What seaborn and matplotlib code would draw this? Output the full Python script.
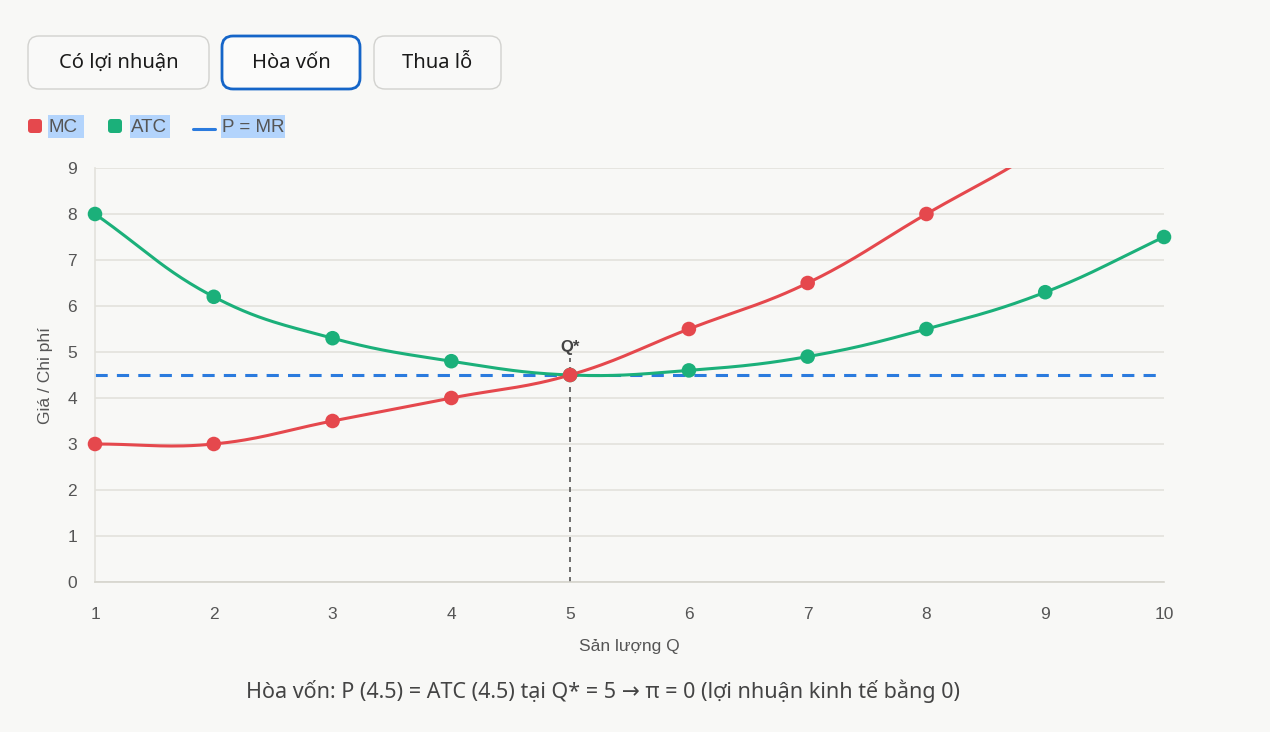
import numpy as np
import matplotlib
matplotlib.use("Agg")
import matplotlib.pyplot as plt
import seaborn as sns
from matplotlib.patches import FancyBboxPatch, Rectangle

# ~~~~~ data ~~~~~
q = [1, 2, 3, 4, 5, 6, 7, 8, 9, 10]
mc = [3, 3, 3.5, 4, 4.5, 5.5, 6.5, 8, 9.5, 11.5]
atc = [8, 6.2, 5.3, 4.8, 4.5, 4.6, 4.9, 5.5, 6.3, 7.5]
price = 4.5
q_star = 5
y_ticks = [0, 1, 2, 3, 4, 5, 6, 7, 8, 9]
buttons = ["Có lợi nhuận", "Hòa vốn", "Thua lỗ"]
legend_names = ["MC", "ATC", "P = MR"]
caption = "Hòa vốn: P (4.5) = ATC (4.5) tại Q* = 5 → π = 0 (lợi nhuận kinh tế bằng 0)"

RED = "#e5484d"
GREEN = "#1bb07a"
BLUE = "#2b7bde"
BG = "#f8f8f6"
GRID = "#e3e2dc"
TXT = "#555555"

sns.set_theme(style="white")
plt.rcParams["font.family"] = ["Liberation Sans", "DejaVu Sans"]


def smooth(xs, ys, tension=0.4, sx=119.0, sy=46.0, n=30):
    # chart.js style bezier curve, distances taken in pixel space
    px = np.array(xs, float) * sx
    py = np.array(ys, float) * sy
    m = len(px)
    cp_prev = np.zeros((m, 2))
    cp_next = np.zeros((m, 2))
    for i in range(m):
        p0 = np.array([px[max(i - 1, 0)], py[max(i - 1, 0)]])
        p1 = np.array([px[i], py[i]])
        p2 = np.array([px[min(i + 1, m - 1)], py[min(i + 1, m - 1)]])
        d01 = np.hypot(*(p1 - p0))
        d12 = np.hypot(*(p2 - p1))
        tot = d01 + d12
        s01 = d01 / tot if tot else 0
        s12 = d12 / tot if tot else 0
        cp_prev[i] = p1 - tension * s01 * (p2 - p0)
        cp_next[i] = p1 + tension * s12 * (p2 - p0)
    out = []
    t = np.linspace(0, 1, n)[:, None]
    for i in range(m - 1):
        a = np.array([px[i], py[i]])
        b = cp_next[i]
        c = cp_prev[i + 1]
        d = np.array([px[i + 1], py[i + 1]])
        seg = (1 - t) ** 3 * a + 3 * (1 - t) ** 2 * t * b + 3 * (1 - t) * t ** 2 * c + t ** 3 * d
        out.append(seg if i == 0 else seg[1:])
    out = np.vstack(out)
    return out[:, 0] / sx, out[:, 1] / sy


fig = plt.figure(figsize=(12.7, 7.32), dpi=100, facecolor=BG)
ax = fig.add_axes([95 / 1270, 1 - 582 / 732, (1164 - 95) / 1270, (582 - 168) / 732])
ax.set_facecolor(BG)

ax.set_xlim(1, 10)
ax.set_ylim(0, 9)

# curves
for ys, col in [(atc, GREEN), (mc, RED)]:
    cx, cy = smooth(q, ys)
    ax.plot(cx, cy, color=col, lw=2.2, zorder=3, solid_capstyle="round")
    vis = [(x, y) for x, y in zip(q, ys) if y <= 9]
    sns.scatterplot(x=[v[0] for v in vis], y=[v[1] for v in vis], color=col, s=110,
                    edgecolor="none", ax=ax, zorder=4, clip_on=False)

ax.axhline(price, color=BLUE, lw=2.2, ls=(0, (4, 3)), zorder=2)
ax.plot([q_star, q_star], [0, 4.87], color="#555555", lw=1.2, ls=(0, (3, 3)), zorder=2)
ax.text(q_star, 4.93, "Q*", ha="center", va="bottom", fontsize=12, fontweight="bold", color="#444444")

ax.set_xticks(q)
ax.set_yticks(y_ticks)
ax.grid(axis="y", color=GRID, lw=1.2)
ax.grid(axis="x", visible=False)
for s in ["top", "right"]:
    ax.spines[s].set_visible(False)
ax.spines["left"].set_color(GRID)
ax.spines["left"].set_linewidth(1.2)
ax.spines["bottom"].set_color("#d6d5cd")
ax.spines["bottom"].set_linewidth(1.2)
ax.tick_params(axis="y", length=9, color=GRID, width=1.2, pad=4, labelsize=12.5, labelcolor=TXT)
ax.tick_params(axis="x", length=0, pad=18, labelsize=12.5, labelcolor=TXT)
ax.set_xlabel("Sản lượng Q", fontsize=12.5, color=TXT, labelpad=12)
ax.set_ylabel("Giá / Chi phí", fontsize=12.5, color=TXT, labelpad=10)

# overlay in pixel coordinates for buttons, legend, caption
ov = fig.add_axes([0, 0, 1, 1], facecolor="none")
ov.set_xlim(0, 1270)
ov.set_ylim(732, 0)
ov.axis("off")

ui_font = ["Noto Sans", "DejaVu Sans"]
btn_x = [(28, 209), (222, 360), (374, 501)]
for name, (x0, x1), sel in zip(buttons, btn_x, [False, True, False]):
    ov.add_patch(FancyBboxPatch((x0, 36), x1 - x0, 53,
                                boxstyle="round,pad=0,rounding_size=11",
                                facecolor="#f9f9f8" if not sel else "#fbfbfa",
                                edgecolor="#1565c8" if sel else "#d2d2cf",
                                lw=2.0 if sel else 1.0))
    ov.text((x0 + x1) / 2, 63, name, ha="center", va="center", fontsize=14.5,
            color="#1a1a1a", family=ui_font)

# legend
HL = "#b3d4fc"
items = [(28, 48, 84, RED, "sq"), (108, 130, 170, GREEN, "sq"), (193, 221, 285, BLUE, "ln")]
for name, (mx, tx0, tx1, col, kind) in zip(legend_names, items):
    ov.add_patch(Rectangle((tx0, 115), tx1 - tx0, 23, facecolor=HL, edgecolor="none"))
    if kind == "sq":
        ov.add_patch(FancyBboxPatch((mx, 119), 14, 14, boxstyle="round,pad=0,rounding_size=3",
                                    facecolor=col, edgecolor="none"))
    else:
        ov.plot([mx, mx + 22], [129, 129], color=col, lw=2.2)
    ov.text(tx0 + 1, 127, name, ha="left", va="center", fontsize=13.5, color="#555555")

ov.text(603, 691, caption, ha="center", va="center", fontsize=15.5, color="#444444", family=ui_font)

fig.savefig("out.png", dpi=100, facecolor=BG)
